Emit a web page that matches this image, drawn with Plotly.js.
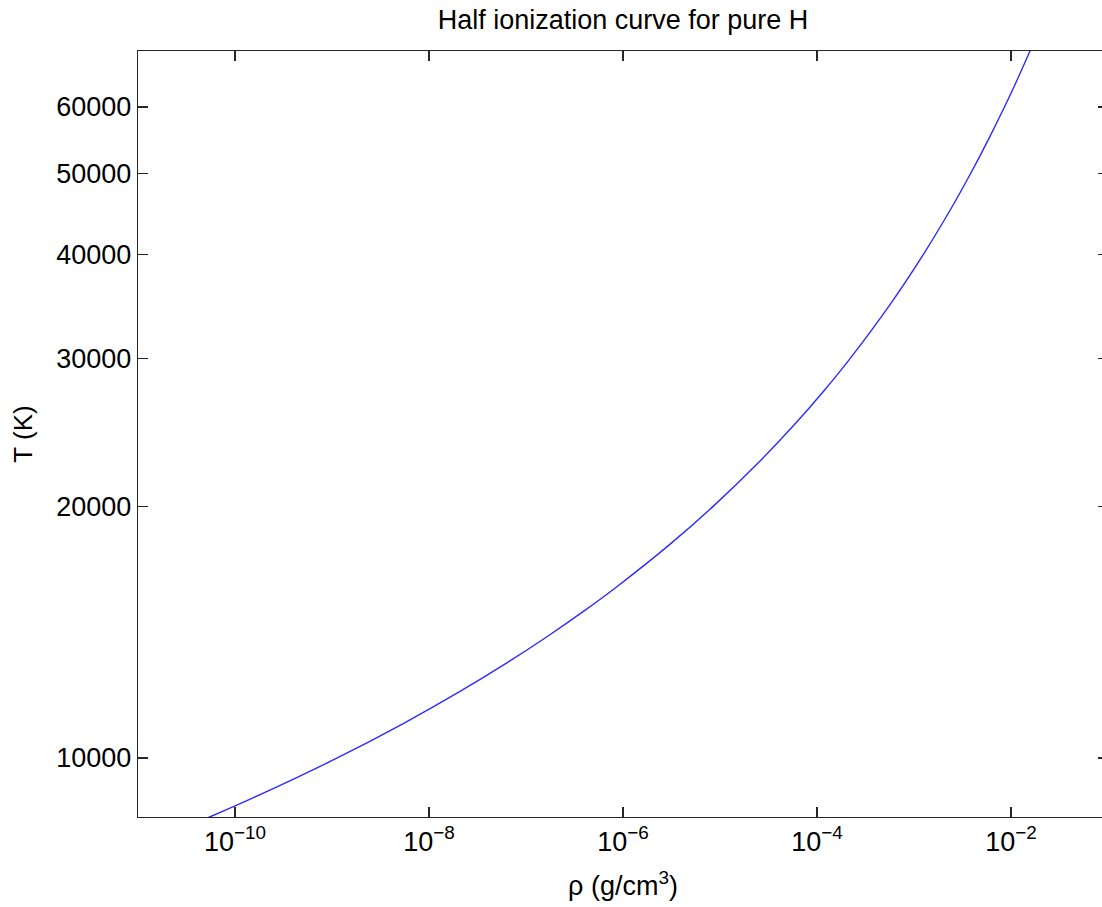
<!DOCTYPE html>
<html>
<head>
<meta charset="utf-8">
<script src="https://cdn.plot.ly/plotly-3.0.1.min.js"></script>
<style>
html, body { margin: 0; padding: 0; overflow: hidden; background: #fff; }
#chart { position: absolute; left: 0; top: 0; }
</style>
</head>
<body>
<div id="chart"></div>
<script>
// Temperature (K) along the half-ionization curve
const temperature = [8000, 8500, 9000, 10000, 11000, 12000, 13000, 14000, 15000, 16000,
  18000, 20000, 22500, 25000, 27500, 30000, 35000, 40000, 45000, 50000,
  55000, 60000, 65000, 70000, 75000];
// Density (g/cm^3)
const density = [1.569e-11, 5.48e-11, 1.675e-10, 1.133e-9, 5.486e-9, 2.066e-8, 6.406e-8, 1.704e-7, 4.006e-7, 8.518e-7,
  3.041e-6, 8.556e-6, 2.453e-5, 5.795e-5, 1.187e-4, 2.181e-4, 5.826e-4, 1.251e-3, 2.314e-3, 3.847e-3,
  5.914e-3, 8.558e-3, 1.181e-2, 1.570e-2, 2.024e-2];

const xTickVals = [1e-10, 1e-8, 1e-6, 1e-4, 1e-2];
const xTickText = ['10<sup>\u221210</sup>', '10<sup>\u22128</sup>', '10<sup>\u22126</sup>', '10<sup>\u22124</sup>', '10<sup>\u22122</sup>'];
const yTickVals = [10000, 20000, 30000, 40000, 50000, 60000];
const yTickText = ['10000', '20000', '30000', '40000', '50000', '60000'];

const FONT = 'Liberation Sans, Arial, Helvetica, sans-serif';

const trace = {
  x: density,
  y: temperature,
  type: 'scatter',
  mode: 'lines',
  line: { color: '#2b2bff', width: 1.4, shape: 'spline', smoothing: 0.8 },
  hoverinfo: 'skip'
};

const axisCommon = {
  showline: true,
  linecolor: '#262626',
  linewidth: 1.2,
  mirror: 'ticks',
  ticks: 'inside',
  ticklen: 10,
  tickwidth: 1.2,
  tickcolor: '#262626',
  showgrid: false,
  zeroline: false,
  tickfont: { family: FONT, size: 27, color: '#000' }
};

const layout = {
  width: 1110,
  height: 907,
  margin: { l: 138, r: 2, t: 51, b: 90, pad: 0 },
  paper_bgcolor: '#fff',
  plot_bgcolor: '#fff',
  showlegend: false,
  title: {
    text: 'Half ionization curve for pure H',
    font: { family: FONT, size: 27, color: '#000' },
    x: 0.5, xref: 'paper', xanchor: 'center',
    y: 0.978, yref: 'container', yanchor: 'middle'
  },
  xaxis: Object.assign({}, axisCommon, {
    type: 'log',
    range: [-11, -1],
    tickmode: 'array',
    tickvals: xTickVals,
    ticktext: xTickText,
    title: { text: '\u03c1 (g/cm<sup>3</sup>)', font: { family: FONT, size: 27, color: '#000' }, standoff: 20 }
  }),
  yaxis: Object.assign({}, axisCommon, {
    type: 'log',
    range: [Math.log10(8500), Math.log10(70000)],
    tickmode: 'array',
    tickvals: yTickVals,
    ticktext: yTickText,
    title: { text: 'T (K)', font: { family: FONT, size: 26, color: '#000' }, standoff: 16 }
  })
};

Plotly.newPlot('chart', [trace], layout, { staticPlot: true, displayModeBar: false });
</script>
</body>
</html>
